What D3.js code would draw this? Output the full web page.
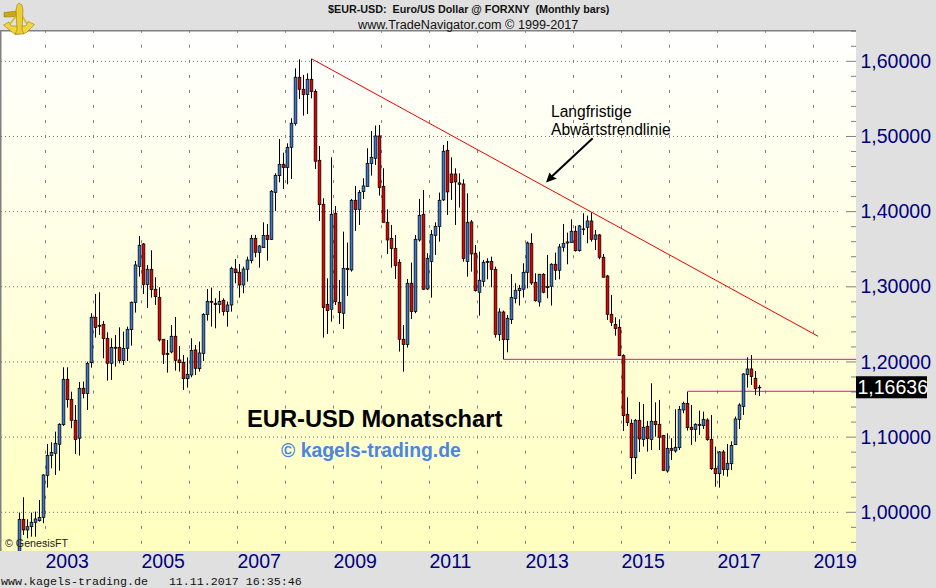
<!DOCTYPE html>
<html><head><meta charset="utf-8">
<script src="https://cdn.jsdelivr.net/npm/d3@7/dist/d3.min.js"></script>
<style>html,body{margin:0;padding:0;background:#e0e0e0}svg{display:block}text{font-family:"Liberation Sans",Arial,sans-serif}</style>
</head><body><svg id="c" width="936" height="588"></svg>
<script>
const opens=[.945,.9907,.9765,.9809,.9863,.9889,.9933,1.0492,1.0754,1.0785,
1.0905,1.1166,1.1770,1.1503,1.1224,1.0985,1.1650,1.1579,1.1991,1.2595,
1.2488,1.2501,1.2315,1.1982,1.2182,1.2195,1.2018,1.2182,1.2430,1.2790,
1.3269,1.3570,1.3029,1.3233,1.2967,1.2860,1.2302,1.2115,1.2133,1.2342,
1.2027,1.1996,1.1778,1.1827,1.2160,1.1911,1.2111,1.2630,1.2807,1.2781,
1.2763,1.2821,1.2670,1.2758,1.3237,1.3193,1.3024,1.3233,1.3348,1.3645,
1.3459,1.3521,1.3685,1.3628,1.4253,1.4479,1.4630,1.4586,1.4856,1.5171,
1.5788,1.5628,1.5557,1.5761,1.5597,1.4683,1.4098,1.2767,1.2701,1.3978,
1.2794,1.2648,1.3246,1.3224,1.4151,1.4027,1.4266,1.4333,1.4639,1.4710,
1.5007,1.4337,1.3858,1.3645,1.3512,1.3326,1.2302,1.2231,1.3047,1.2670,
1.3623,1.3965,1.2971,1.3335,1.3681,1.3801,1.4156,1.4816,1.4501,1.4501,
1.4382,1.4368,1.3335,1.3863,1.3446,1.2927,1.3069,1.3322,1.3339,1.3233,
1.2364,1.2665,1.2297,1.2563,1.2843,1.2949,1.2967,1.3193,1.3579,1.3060,
1.2798,1.3167,1.2989,1.3007,1.3300,1.3220,1.3526,1.3583,1.3588,1.3739,
1.3481,1.3770,1.3792,1.3876,1.3632,1.3690,1.3393,1.3144,1.2634,1.2497,
1.2461,1.2084,1.1304,1.1184,1.0727,1.1224,1.0967,1.1144,1.0967,1.1211,
1.1171,1.1024,1.0550,1.0851,1.0816,1.0860,1.1361,1.1450,1.1131,1.1100,
1.1157,1.1153,1.1228,1.0971,1.0585,1.0514,1.0803,1.0568,1.0647,1.0900,
1.1233,1.1406,1.1832,1.1907,1.1783,1.1655];
const closes=[.9907,.9765,.9809,.9867,.9911,.9933,1.0497,1.0758,1.0798,1.0918,
1.1171,1.1770,1.1499,1.1224,1.0967,1.1650,1.1579,1.1982,1.2595,1.2457,
1.2475,1.2311,1.1982,1.2195,1.2195,1.2018,1.2182,1.2435,1.2794,1.3291,
1.3552,1.3029,1.3233,1.2963,1.2869,1.2293,1.2102,1.2098,1.2342,1.2022,
1.1991,1.1778,1.1836,1.2155,1.1916,1.2120,1.2634,1.2807,1.2794,1.2763,
1.2807,1.2670,1.2758,1.3246,1.3188,1.3024,1.3237,1.3357,1.3645,1.3459,
1.3543,1.3685,1.3628,1.4271,1.4483,1.4630,1.4586,1.4856,1.5176,1.5788,
1.5628,1.5557,1.5761,1.5597,1.4670,1.4093,1.2723,1.2683,1.3965,1.2803,
1.2656,1.3246,1.3228,1.4151,1.4027,1.4257,1.4342,1.4643,1.4723,1.5007,
1.4320,1.3858,1.3623,1.3508,1.3282,1.2302,1.2231,1.3047,1.2670,1.3632,
1.3951,1.2967,1.3379,1.3694,1.3805,1.4151,1.4803,1.4262,1.4386,1.4395,
1.4364,1.3375,1.3858,1.3437,1.2949,1.3087,1.3326,1.3339,1.3233,1.2368,
1.2665,1.2297,1.2581,1.2860,1.2954,1.2980,1.3193,1.3583,1.3051,1.2816,
1.3167,1.2927,1.3007,1.3300,1.3220,1.3530,1.3579,1.3597,1.3739,1.3481,
1.3810,1.3761,1.3876,1.3632,1.3690,1.3393,1.3127,1.2634,1.2528,1.2444,
1.2084,1.1286,1.1193,1.0727,1.1224,1.0976,1.1131,1.0980,1.1211,1.1166,
1.0998,1.0559,1.0851,1.0825,1.0865,1.1370,1.1450,1.1126,1.1100,1.1171,
1.1171,1.1237,1.0967,1.0581,1.0514,1.0803,1.0568,1.0652,1.0891,1.1242,
1.1428,1.1840,1.1907,1.1805,1.1645,1.16636];
const highs=[.9996,1.0200,.9907,.9996,1.0009,1.0164,1.0506,1.0909,1.0931,1.1073,
1.1184,1.1929,1.1929,1.1605,1.1428,1.1734,1.1739,1.2005,1.2648,1.2905,
1.2927,1.2546,1.2395,1.2315,1.2359,1.2461,1.2404,1.2470,1.2803,1.3344,
1.3677,1.3583,1.3291,1.3486,1.3127,1.2994,1.2302,1.2293,1.2492,1.2599,
1.2213,1.2093,1.2062,1.2315,1.2226,1.2271,1.2648,1.2971,1.2989,1.2847,
1.2945,1.2847,1.2803,1.3268,1.3370,1.3304,1.3268,1.3401,1.3690,1.3690,
1.3557,1.3858,1.3836,1.4288,1.4510,1.4967,1.4785,1.4909,1.5242,1.5907,
1.6027,1.5819,1.5841,1.6031,1.5628,1.4874,1.4178,1.3113,1.4723,1.4075,
1.3091,1.3734,1.3588,1.4169,1.4342,1.4288,1.4444,1.4843,1.5073,1.5145,
1.5153,1.4577,1.4031,1.3823,1.3690,1.3366,1.2492,1.3104,1.3322,1.3690,
1.4169,1.4288,1.3446,1.3756,1.3858,1.4253,1.4887,1.4940,1.4723,1.4577,
1.4510,1.4430,1.4244,1.3889,1.3557,1.3468,1.3357,1.3379,1.3401,1.3268,
1.2714,1.2683,1.2625,1.3171,1.3047,1.3025,1.3313,1.3601,1.3712,1.3180,
1.3171,1.3180,1.3424,1.3313,1.3455,1.3570,1.3836,1.3721,1.3898,1.3810,
1.3823,1.3978,1.3947,1.3987,1.3756,1.3703,1.3437,1.3158,1.2892,1.2594,
1.2568,1.2102,1.1530,1.1237,1.1242,1.1468,1.1441,1.1215,1.1716,1.1463,
1.1495,1.1029,1.1051,1.0985,1.1370,1.1415,1.1472,1.1605,1.1428,1.1184,
1.1353,1.1339,1.1250,1.1295,1.0874,1.0816,1.0829,1.0909,1.0945,1.1273,
1.1450,1.1849,1.2062,1.2093,1.1880,1.1694];
const lows=[.94,.9698,.9654,.9676,.9676,.9876,.9854,1.0328,1.0585,1.0497,
1.0554,1.1149,1.1393,1.1118,1.0776,1.0754,1.1517,1.1362,1.1925,1.2324,
1.2359,1.2049,1.1752,1.1761,1.1938,1.1982,1.1960,1.2013,1.2218,1.2657,
1.3135,1.2905,1.2719,1.2856,1.2759,1.2271,1.1974,1.1858,1.2115,1.1885,
1.1872,1.1628,1.1659,1.1796,1.1827,1.1872,1.2013,1.2550,1.2470,1.2448,
1.2648,1.2616,1.2470,1.2670,1.3047,1.2856,1.2914,1.3069,1.3313,1.3392,
1.3255,1.3521,1.3348,1.3623,1.4009,1.4390,1.4302,1.4364,1.4435,1.5145,
1.5499,1.5277,1.5300,1.5508,1.4568,1.3876,1.2324,1.2373,1.2537,1.2758,
1.2506,1.2439,1.2878,1.3202,1.3743,1.3823,1.4169,1.4333,1.4479,1.4621,
1.4213,1.3858,1.3437,1.3255,1.3104,1.2138,1.1871,1.2191,1.2572,1.2648,
1.3601,1.2958,1.2958,1.2856,1.3424,1.3601,1.4142,1.3956,1.4156,1.3823,
1.4054,1.3335,1.3135,1.3202,1.2936,1.2617,1.3002,1.3100,1.2993,1.2324,
1.2280,1.2036,1.2129,1.2506,1.2781,1.2750,1.2856,1.2980,1.3025,1.2803,
1.2736,1.2914,1.2847,1.2750,1.3091,1.3100,1.3468,1.3300,1.3588,1.3468,
1.3468,1.3690,1.3579,1.3601,1.3490,1.3366,1.3127,1.2559,1.2479,1.2350,
1.2084,1.1082,1.1149,1.0443,1.0510,1.0803,1.0874,1.0807,1.0829,1.1007,
1.0829,1.0550,1.0528,1.0696,1.0794,1.0829,1.1317,1.1087,1.0896,1.0940,
1.1029,1.1109,1.0953,1.0563,1.0341,1.0328,1.0488,1.0475,1.0563,1.0896,
1.1109,1.1295,1.1659,1.1694,1.1561,1.1548];
const yearLabels=[2003,2005,2007,2009,2011,2013,2015,2017,2019];
const gridYears=d3.range(2003,2020);
const priceLabels=[1.0,1.1,1.2,1.3,1.4,1.5,1.6];
const minorLevels=d3.range(48,83).map(d=>d/50);
const trend={i1:73,p1:1.6034,i2:199.67,p2:1.2341};
const supports=[{i:121,p:1.2035},{i:167,p:1.1610}];

const W=936,H=588,plot={l:1,t:30,r:856,b:551};
const svg=d3.select('#c');
const x=d3.scaleLinear().domain([0,185]).range([19.5,759.5]);
const y=d3.scaleLinear().domain([1,1.6]).range([512.3,61.3]);
const yearX=Y=>x(7+12*(Y-2003)-0.5);
const fmt=d=>d3.format('.5f')(d).replace('.',',');
const defs=svg.append('defs');
const g=defs.append('linearGradient').attr('id','bg').attr('x1',0).attr('x2',0).attr('y1',0).attr('y2',1);
g.append('stop').attr('offset',0).attr('stop-color','#ffffff');
g.append('stop').attr('offset',1).attr('stop-color','#ffffbe');
defs.append('clipPath').attr('id','pc').append('rect').attr('x',plot.l).attr('y',plot.t).attr('width',plot.r-plot.l).attr('height',plot.b-plot.t);

svg.append('rect').attr('width',W).attr('height',H).attr('fill','#e0e0e0');
svg.append('rect').attr('x',plot.l).attr('y',plot.t).attr('width',plot.r-plot.l).attr('height',plot.b-plot.t).attr('fill','url(#bg)');
svg.append('path').attr('d',`M0.75 ${plot.b}V30.75H${plot.r}`).attr('fill','none').attr('stroke','#808080').attr('stroke-width',1.5);

const grid=svg.append('g').attr('clip-path','url(#pc)');
grid.selectAll('.dot').data(priceLabels).join('line').attr('x1',plot.l).attr('x2',840)
 .attr('y1',d=>y(d)).attr('y2',d=>y(d)).attr('stroke','#707070').attr('stroke-dasharray','1 3');
gridYears.forEach(Y=>{
 grid.append('g').selectAll('line').data(minorLevels).join('line')
  .attr('x1',yearX(Y)).attr('x2',yearX(Y)).attr('y1',d=>y(d)-1.5).attr('y2',d=>y(d)+1.5)
  .attr('stroke','#808080').attr('stroke-width',1);
});
// right tick marks
svg.append('g').selectAll('line').data(minorLevels).join('line')
 .attr('x1',d=>Math.round(d*50)%5===0?846:851).attr('x2',856).attr('y1',d=>y(d)).attr('y2',d=>y(d))
 .attr('stroke','#808080');

// support lines
const marks=svg.append('g').attr('clip-path','url(#pc)');
marks.selectAll('.sup').data(supports).join('line').attr('x1',d=>x(d.i)).attr('x2',plot.r)
 .attr('y1',d=>y(d.p)).attr('y2',d=>y(d.p)).attr('stroke','#e800d8').attr('stroke-width',1);
// trend line
marks.append('line').attr('x1',x(trend.i1)).attr('y1',y(trend.p1)).attr('x2',x(trend.i2)).attr('y2',y(trend.p2))
 .attr('stroke','#ee0000').attr('stroke-width',1);

// candles
const idx=d3.range(opens.length);
marks.append('g').selectAll('line').data(idx).join('line')
 .attr('x1',x).attr('x2',x).attr('y1',i=>y(highs[i])).attr('y2',i=>y(lows[i]))
 .attr('stroke','#000').attr('stroke-width',1);
marks.append('g').selectAll('rect').data(idx).join('rect')
 .attr('x',i=>x(i)-1.35).attr('width',2.7)
 .attr('y',i=>y(Math.max(opens[i],closes[i])))
 .attr('height',i=>Math.max(0.4,Math.abs(y(opens[i])-y(closes[i]))))
 .attr('fill',i=>closes[i]>=opens[i]?'#3a78d8':'#e80000')
 .attr('stroke','#000').attr('stroke-width',.75);

// axes
const yAxis=d3.axisRight(y).tickValues(priceLabels).tickSize(0).tickPadding(0).tickFormat(fmt);
const ya=svg.append('g').attr('transform','translate(860.5,0)').call(yAxis);
ya.select('.domain').remove();
ya.selectAll('text').attr('fill','#00007f').style('font-size','19.5px').attr('dy','.31em');
const xAxis=d3.axisBottom(d3.scaleLinear().domain([0,W]).range([0,W])).tickValues(yearLabels.map(yearX)).tickSize(0).tickPadding(0)
 .tickFormat((d,i)=>yearLabels[i]);
const xa=svg.append('g').attr('transform','translate(-0.5,551)').call(xAxis);
xa.select('.domain').remove();
xa.selectAll('text').attr('fill','#00007f').style('font-size','19.5px').attr('text-anchor','start').attr('y',17).attr('dy',0);

// last price box
const last=closes[closes.length-1];
svg.append('rect').attr('x',856).attr('y',y(last)-11).attr('width',71).attr('height',22).attr('fill','#000');
svg.append('text').attr('x',857.5).attr('y',y(last)+7).attr('fill','#fff').style('font-size','19.5px').text(fmt(last));

// titles
svg.append('text').attr('x',328).attr('y',13).attr('fill','#111').style('font-size','10.75px').style('font-weight','bold').style('white-space','pre').text('$EUR-USD:  Euro/US Dollar @ FORXNY  (Monthly bars)');
svg.append('text').attr('x',358).attr('y',29).attr('fill','#111').style('font-size','12.65px').text('www.TradeNavigator.com © 1999-2017');
svg.append('text').attr('x',551).attr('y',117).attr('fill','#000').style('font-size','15.6px').text('Langfristige');
svg.append('text').attr('x',551).attr('y',135).attr('fill','#000').style('font-size','15.6px').text('Abwärtstrendlinie');
svg.append('text').attr('x',247).attr('y',427).attr('fill','#000').style('font-size','23.7px').style('font-weight','bold').text('EUR-USD Monatschart');
svg.append('text').attr('x',281).attr('y',457).attr('fill','#4a86e0').style('font-size','19.35px').style('font-weight','bold').text('© kagels-trading.de');
svg.append('text').attr('x',5).attr('y',547).attr('fill','#222').style('font-size','10.7px').text('© GenesisFT');
svg.append('text').attr('x',1).attr('y',585).attr('fill','#111').style('font-family','"Liberation Mono",monospace').style('font-size','11.67px').style('white-space','pre').text('www.kagels-trading.de   11.11.2017 16:35:46');

// arrow
svg.append('path').attr('d','M592.7 138.3L548 180').attr('stroke','#000').attr('stroke-width',2).attr('fill','none');
svg.append('path').attr('d','M546 182.5L549.5 172.5L552.5 176.5L557 178.5Z').attr('fill','#000');

// logo
const logo=svg.append('g').attr('stroke','#8a6d00').attr('stroke-width',.5);
logo.append('path').attr('d','M4 12.5L17 11V16.5L4 17Z').attr('fill','#c9a818');
logo.append('path').attr('d','M3.5 25L9 22L11 26L26 26L28 21.5L34.5 24.5L26 33L15 34.5Z').attr('fill','#f0d53c');
logo.append('path').attr('d','M10 24L17 15M27 24L21 14').attr('stroke','#d9b81f').attr('stroke-width',1.6).attr('fill','none');
logo.append('path').attr('d','M17 5L19 3L22 5L23 10L22 30L24 34L15 34L17 30L16 10Z').attr('fill','#eccd33');
</script></body></html>
